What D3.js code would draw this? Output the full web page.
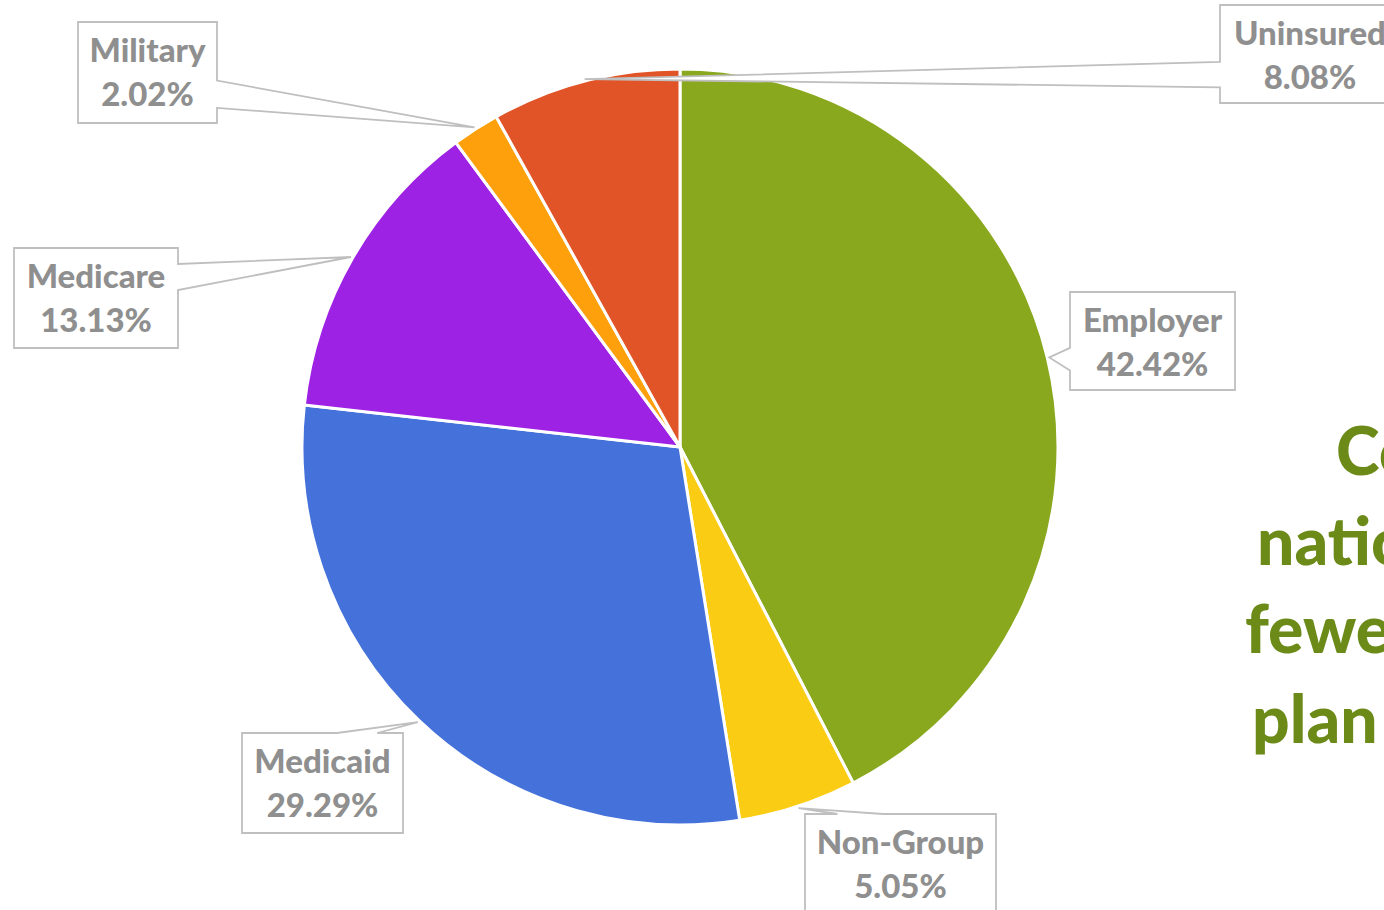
<!DOCTYPE html>
<html lang="en">
<head>
    <meta charset="UTF-8">
    <title>Coverage pie</title>
    <script src="https://d3js.org/d3.v7.min.js"></script>
    <style>
        body { margin: 0; background: #fff; overflow: hidden; }
        svg { display: block; }
    </style>
</head>
<body>
    <div class="chartContainer"></div>
    <script>
        // Data
        const categories = ['Employer', 'Non-Group', 'Medicaid', 'Medicare', 'Military', 'Uninsured'];
        const shares = [42.42, 5.05, 29.29, 13.13, 2.02, 8.08];
        const shareLabels = ['42.42%', '5.05%', '29.29%', '13.13%', '2.02%', '8.08%'];
        const sideText = ['Co', 'natio', 'fewe', 'plan'];

        const sliceColors = ['#89a81e', '#facc14', '#4471da', '#9d22e3', '#fda00b', '#e05427'];

        // callout boxes: box + which edge the pointer leaves from (fractions along that edge)
        const callouts = {
            'Employer':  {x: 1070, y: 292, w: 165, h: 98,  side: 'left',   a: 0.57, b: 0.80},
            'Non-Group': {x: 805,  y: 814, w: 191, h: 100, side: 'top',    a: 0.17, b: 0.41},
            'Medicaid':  {x: 242,  y: 733, w: 161, h: 100, side: 'top',    a: 0.59, b: 0.84},
            'Medicare':  {x: 14,   y: 248, w: 164, h: 100, side: 'right',  a: 0.16, b: 0.42},
            'Military':  {x: 78,   y: 22,  w: 139, h: 101, side: 'right',  a: 0.58, b: 0.85},
            'Uninsured': {x: 1220, y: 5,   w: 180, h: 98,  side: 'left',   a: 0.58, b: 0.84}
        };

        const width = 1384, height = 910;
        const cx = 680, cy = 447, radius = 378;

        const svg = d3.select('.chartContainer')
            .append('svg')
            .attr('width', width)
            .attr('height', height);

        const color = d3.scaleOrdinal().domain(categories).range(sliceColors);

        const pie = d3.pie().sort(null).value(d => d.value);
        const data = categories.map((c, i) => ({item: c, value: shares[i], label: shareLabels[i]}));
        const arcs = pie(data);

        const arc = d3.arc().innerRadius(0).outerRadius(radius);
        const tipArc = d3.arc().innerRadius(radius + 2).outerRadius(radius + 2);

        const g = svg.append('g').attr('transform', `translate(${cx},${cy})`);

        g.selectAll('path.slice')
            .data(arcs)
            .enter()
            .append('path')
            .attr('class', 'slice')
            .attr('d', arc)
            .attr('fill', d => color(d.data.item))
            .attr('stroke', '#fff')
            .attr('stroke-width', 3)
            .attr('stroke-linejoin', 'round');

        // callout shape: rectangle with a wedge pointing at the slice
        const calloutPath = (b, tip) => {
            const x0 = b.x, y0 = b.y, x1 = b.x + b.w, y1 = b.y + b.h;
            let pts;
            if (b.side === 'left') {
                pts = [[x0, y0], [x1, y0], [x1, y1], [x0, y1],
                       [x0, y0 + b.h * b.b], tip, [x0, y0 + b.h * b.a]];
            } else if (b.side === 'right') {
                pts = [[x0, y0], [x1, y0], [x1, y0 + b.h * b.a], tip,
                       [x1, y0 + b.h * b.b], [x1, y1], [x0, y1]];
            } else {
                pts = [[x0, y0], [x0 + b.w * b.a, y0], tip, [x0 + b.w * b.b, y0],
                       [x1, y0], [x1, y1], [x0, y1]];
            }
            return 'M' + pts.map(p => p.join(',')).join('L') + 'Z';
        };

        const labels = svg.append('g').attr('class', 'labels');

        arcs.forEach(d => {
            const b = callouts[d.data.item];
            const c = tipArc.centroid(d);
            const tip = [cx + c[0], cy + c[1]];

            labels.append('path')
                .attr('d', calloutPath(b, tip))
                .attr('fill', '#fff')
                .attr('stroke', '#bfbfbf')
                .attr('stroke-width', 1.8)
                .attr('stroke-linejoin', 'miter');

            const t = labels.append('text')
                .attr('text-anchor', 'middle')
                .style('font-family', 'Lato, "Open Sans", sans-serif')
                .style('font-weight', 900)
                .style('font-size', '33px')
                .style('fill', '#8f8f8f');
            t.append('tspan')
                .attr('x', b.x + b.w / 2)
                .attr('y', b.y + 40)
                .text(d.data.item);
            t.append('tspan')
                .attr('x', b.x + b.w / 2)
                .attr('y', b.y + 84)
                .text(d.data.label);
        });

        // cut-off heading text on the right
        const sidePos = [[1336, 475], [1257, 565], [1245, 653], [1252, 743]];
        svg.append('g')
            .selectAll('text')
            .data(sideText)
            .enter()
            .append('text')
            .attr('x', (d, i) => sidePos[i][0])
            .attr('y', (d, i) => sidePos[i][1])
            .text(d => d)
            .style('font-family', 'Lato, "Open Sans", sans-serif')
            .style('font-weight', 900)
            .style('font-size', '66px')
            .style('fill', '#6b8a18');
    </script>
</body>
</html>
